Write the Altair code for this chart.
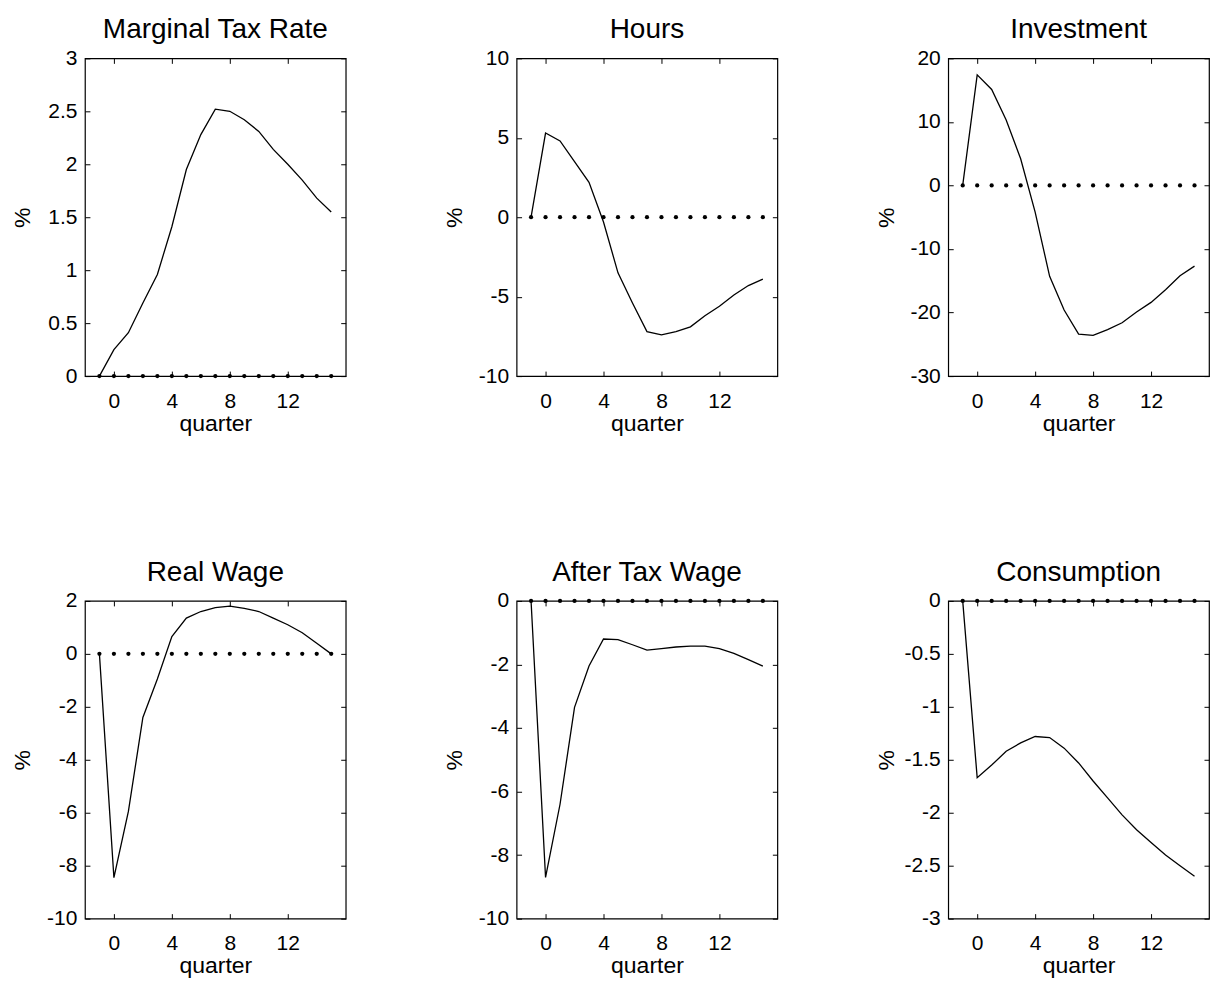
import altair as alt
import pandas as pd

# ---------------- data ----------------
quarters = [-1, 0, 1, 2, 3, 4, 5, 6, 7, 8, 9, 10, 11, 12, 13, 14, 15]
x_ticks = [0, 4, 8, 12]

tax_rate = [0, 0.25, 0.41, 0.69, 0.96, 1.41, 1.95, 2.28, 2.52, 2.50, 2.42, 2.31, 2.14, 2.00, 1.85, 1.68, 1.55]
hours = [0, 5.3, 4.8, 3.5, 2.2, -0.3, -3.5, -5.4, -7.2, -7.4, -7.2, -6.9, -6.2, -5.6, -4.9, -4.3, -3.9]
investment = [0, 17.4, 15.1, 10.3, 4.2, -4.2, -14.3, -19.6, -23.4, -23.6, -22.7, -21.6, -19.9, -18.4, -16.4, -14.2, -12.7]
real_wage = [0, -8.45, -5.95, -2.4, -0.95, 0.65, 1.35, 1.6, 1.75, 1.8, 1.72, 1.6, 1.35, 1.1, 0.8, 0.4, 0.0]
after_tax_wage = [0, -8.7, -6.4, -3.35, -2.05, -1.2, -1.22, -1.38, -1.55, -1.5, -1.45, -1.42, -1.42, -1.5, -1.65, -1.85, -2.05]
consumption = [0, -1.67, -1.55, -1.42, -1.34, -1.28, -1.29, -1.39, -1.53, -1.7, -1.86, -2.02, -2.16, -2.28, -2.4, -2.5, -2.6]
baseline = [0, 0, 0, 0, 0, 0, 0, 0, 0, 0, 0, 0, 0, 0, 0, 0, 0]

panel_titles = ["Marginal Tax Rate", "Hours", "Investment", "Real Wage", "After Tax Wage", "Consumption"]
panel_series = [tax_rate, hours, investment, real_wage, after_tax_wage, consumption]
y_domains = [[0, 3], [-10, 10], [-30, 20], [-10, 2], [-10, 0], [-3, 0]]
y_tick_values = [
    [0, 0.5, 1, 1.5, 2, 2.5, 3],
    [-10, -5, 0, 5, 10],
    [-30, -20, -10, 0, 10, 20],
    [-10, -8, -6, -4, -2, 0, 2],
    [-10, -8, -6, -4, -2, 0],
    [-3, -2.5, -2, -1.5, -1, -0.5, 0],
]

FONT = "Liberation Sans"
W, H = 261, 318


def panel(title, values, ydom, yticks):
    df = pd.DataFrame({"quarter": quarters, "response": values, "baseline": baseline})
    xs = alt.Scale(domain=[-2, 16], nice=False, zero=False)
    ys = alt.Scale(domain=ydom, nice=False, zero=False)
    line = alt.Chart(df).mark_line(color="black", strokeWidth=1.3).encode(
        x=alt.X("quarter:Q", scale=xs,
                axis=alt.Axis(orient="bottom", values=x_ticks, offset=-5, tickSize=5,
                              labelPadding=14, title="quarter", titlePadding=1,
                              domain=False, grid=False, labelExpr="datum.value + ''")),
        y=alt.Y("response:Q", scale=ys,
                axis=alt.Axis(orient="left", values=yticks, offset=-5, tickSize=5,
                              labelPadding=8, title="%", titlePadding=6,
                              minExtent=49, maxExtent=49,
                              domain=False, grid=False, labelExpr="datum.value + ''")),
    )
    dots = alt.Chart(df).mark_circle(color="black", size=18, opacity=1).encode(
        x=alt.X("quarter:Q", scale=xs,
                axis=alt.Axis(orient="top", values=x_ticks, offset=-5, tickSize=5,
                              labels=False, title=None, domain=False, grid=False)),
        y=alt.Y("baseline:Q", scale=ys,
                axis=alt.Axis(orient="right", values=yticks, offset=-5, tickSize=5,
                              labels=False, title=None, domain=False, grid=False)),
    )
    return (
        alt.layer(line, dots)
        .resolve_axis(x="independent", y="independent")
        .properties(
            width=W, height=H,
            title=alt.TitleParams(title, fontSize=28, font=FONT, fontWeight="normal",
                                  color="black", offset=-25, baseline="bottom", anchor="middle"),
        )
    )


panels = [panel(t, s, d, yt) for t, s, d, yt in zip(panel_titles, panel_series, y_domains, y_tick_values)]

row1 = alt.hconcat(*panels[:3], spacing=95)
row2 = alt.hconcat(*panels[3:], spacing=95)

chart = (
    alt.vconcat(row1, row2, spacing=122)
    .properties(padding={"left": 11, "top": 15, "right": 0, "bottom": 5}, background="white")
    .configure_view(stroke="black", strokeWidth=1.2)
    .configure_axis(labelFont=FONT, labelFontSize=21, labelColor="black",
                    titleFont=FONT, titleFontSize=23, titleFontWeight="normal", titleColor="black",
                    tickColor="black", tickWidth=1)
)

chart.save("out.html", embed_options={"renderer": "svg", "actions": False})
